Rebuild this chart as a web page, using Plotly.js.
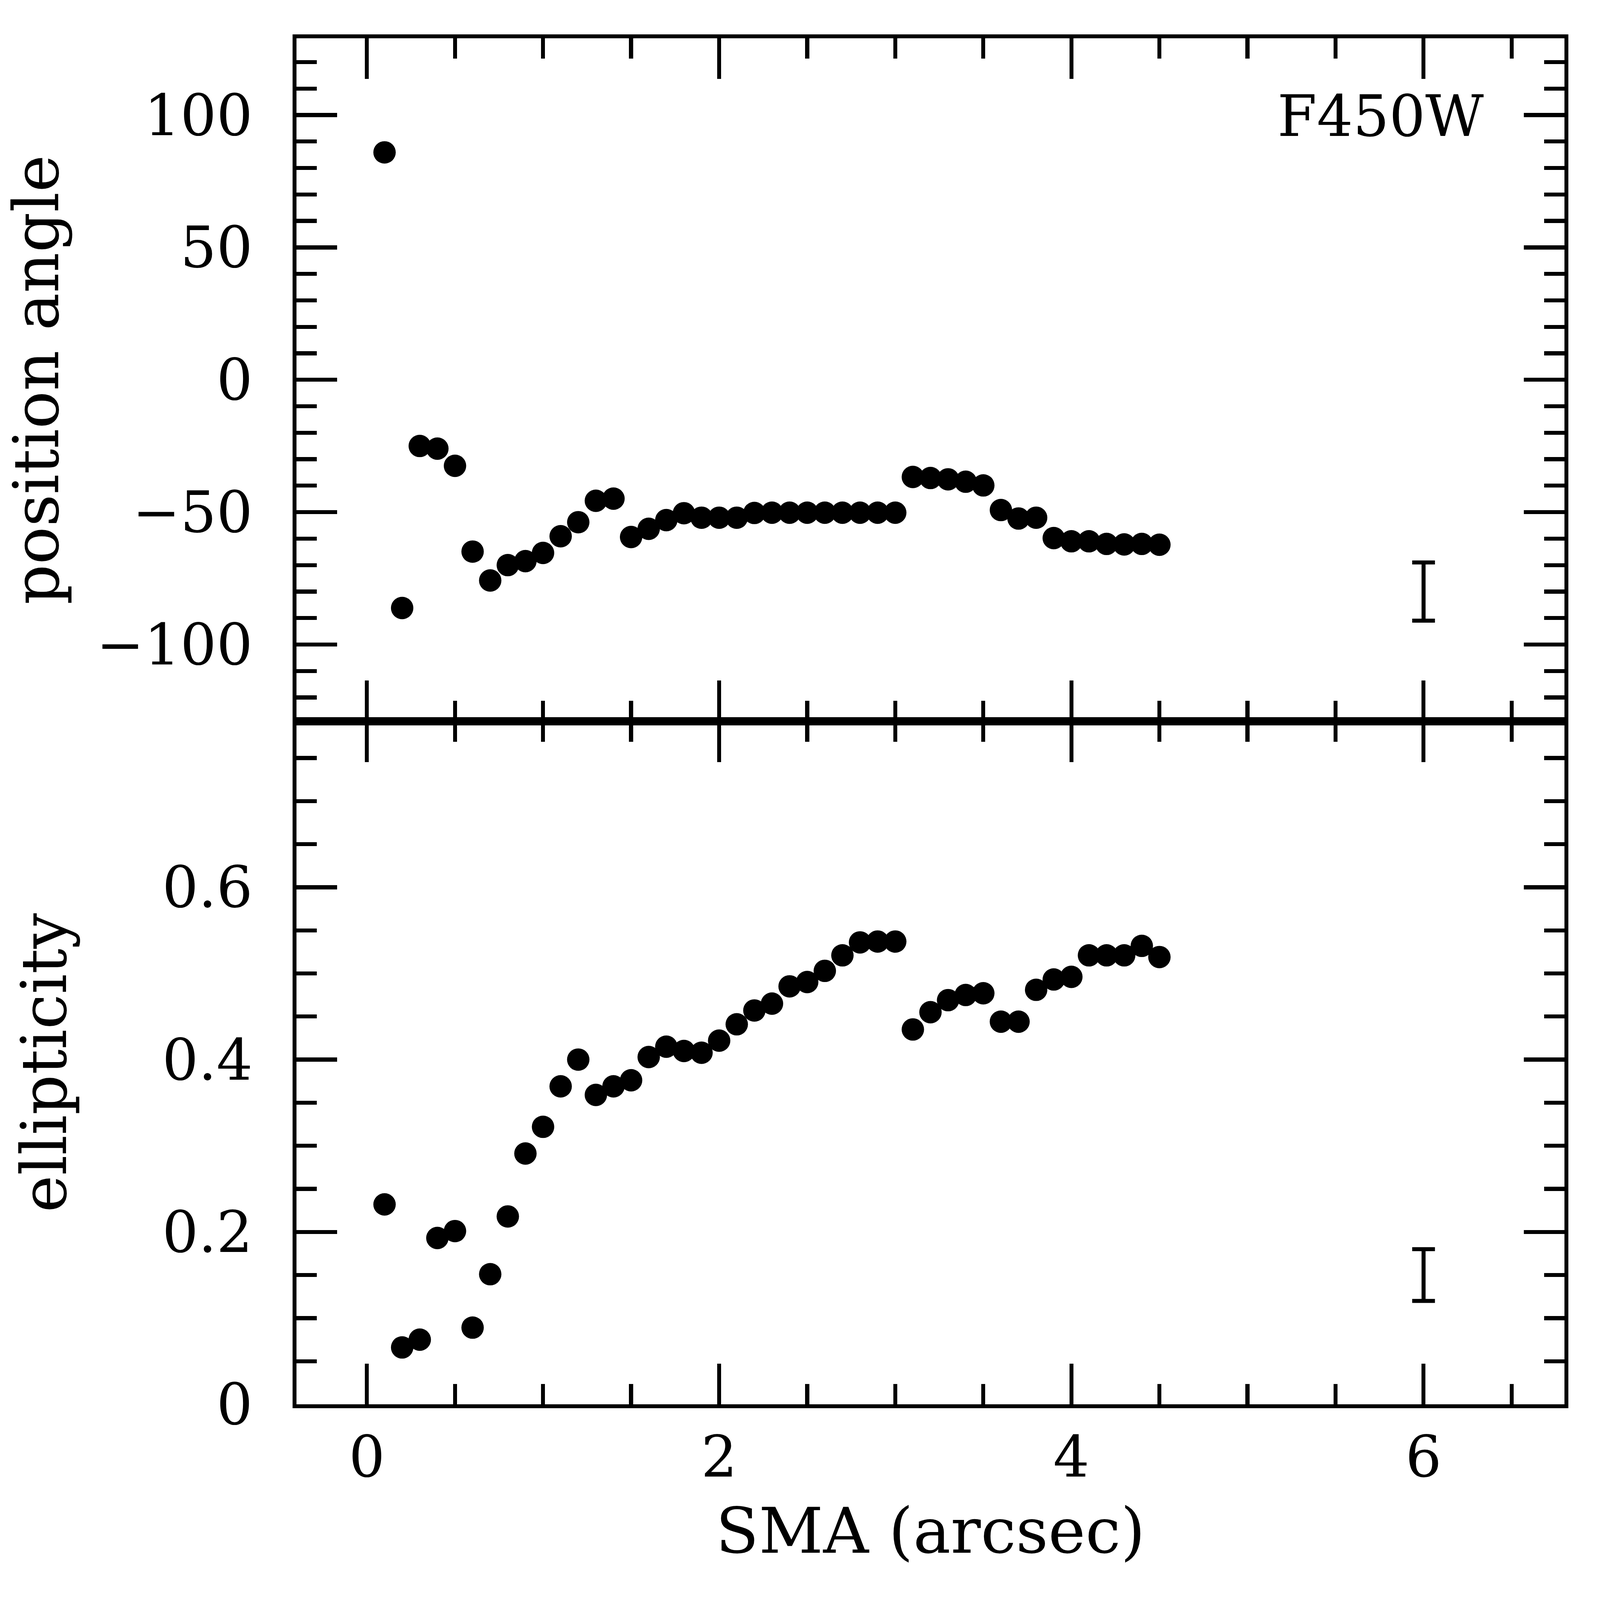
<!DOCTYPE html>
<html>
<head>
<meta charset="utf-8">
<script src="https://cdn.plot.ly/plotly-3.0.1.min.js"></script>
<style>
  html, body { margin: 0; padding: 0; background: #fff; overflow: hidden; }
  #plot { position: absolute; left: 0; top: 0; }
</style>
</head>
<body>
<div id="plot"></div>
<script>
// semi-major axis (arcsec)
var sma = [0.1, 0.2, 0.3, 0.4, 0.5, 0.6, 0.7, 0.8, 0.9, 1.0,
           1.1, 1.2, 1.3, 1.4, 1.5, 1.6, 1.7, 1.8, 1.9, 2.0,
           2.1, 2.2, 2.3, 2.4, 2.5, 2.6, 2.7, 2.8, 2.9, 3.0,
           3.1, 3.2, 3.3, 3.4, 3.5, 3.6, 3.7, 3.8, 3.9, 4.0,
           4.1, 4.2, 4.3, 4.4, 4.5];

// position angle (deg)
var posAngle = [85.9, -86.2, -25.0, -26.0, -32.5, -64.9, -75.8, -70.0, -68.5, -65.4,
                -59.1, -53.8, -45.7, -44.9, -59.4, -56.3, -53.0, -50.4, -52.1, -52.1,
                -52.1, -50.3, -50.2, -50.2, -50.2, -50.2, -50.2, -50.2, -50.2, -50.2,
                -36.7, -37.1, -37.6, -38.5, -39.9, -49.2, -52.4, -52.1, -59.8, -61.0,
                -61.0, -62.0, -62.2, -62.0, -62.3];

// ellipticity
var ellip = [0.232, 0.066, 0.075, 0.193, 0.201, 0.089, 0.151, 0.218, 0.291, 0.322,
             0.369, 0.400, 0.359, 0.369, 0.376, 0.403, 0.415, 0.410, 0.408, 0.422,
             0.441, 0.457, 0.465, 0.485, 0.490, 0.503, 0.521, 0.536, 0.537, 0.537,
             0.435, 0.455, 0.469, 0.475, 0.477, 0.444, 0.444, 0.481, 0.493, 0.496,
             0.521, 0.521, 0.521, 0.532, 0.519];

// typical error bars drawn at SMA = 6
var errX = [6];
var paErrMid = [-80];
var paErr = [11];
var elErrMid = [0.150];
var elErr = [0.030];

// everything below is laid out for a 4783 px square and scaled to the window
var W = Math.min(window.innerWidth, window.innerHeight) || 4783;
var s = W / 4783;
function px(v) { return v * s; }

var FONT = 'DejaVu Serif';
var FS = px(170);      // tick labels
var TFS = px(188);     // axis titles
var LW = px(12);
var MAJ = px(122), MIN = px(61);
var GAP = '\u2002'; // en space to push the y labels away from the frame

var dots = { color: '#000', size: px(67), symbol: 'circle', line: { width: 0 } };
var hidden = { size: 1, color: 'rgba(0,0,0,0)' };

var traces = [
  { x: sma, y: posAngle, type: 'scatter', mode: 'markers', marker: dots,
    xaxis: 'x2', yaxis: 'y2', hoverinfo: 'skip' },
  { x: errX, y: paErrMid, type: 'scatter', mode: 'markers', marker: hidden,
    error_y: { type: 'data', array: paErr, visible: true, color: '#000', thickness: LW, width: px(34) },
    xaxis: 'x2', yaxis: 'y2', hoverinfo: 'skip' },
  { x: sma, y: ellip, type: 'scatter', mode: 'markers', marker: dots,
    xaxis: 'x', yaxis: 'y', hoverinfo: 'skip' },
  { x: errX, y: elErrMid, type: 'scatter', mode: 'markers', marker: hidden,
    error_y: { type: 'data', array: elErr, visible: true, color: '#000', thickness: LW, width: px(34) },
    xaxis: 'x', yaxis: 'y', hoverinfo: 'skip' }
];

function frame(extra, minorStep) {
  var a = {
    showline: true, linecolor: '#000', linewidth: LW, mirror: 'ticks',
    ticks: 'inside', ticklen: MAJ, tickwidth: LW, tickcolor: '#000',
    showgrid: false, zeroline: false, automargin: false,
    tickfont: { family: FONT, size: FS, color: '#000' },
    minor: { dtick: minorStep, ticks: 'inside', ticklen: MIN, tickwidth: LW, tickcolor: '#000', showgrid: false }
  };
  for (var k in extra) a[k] = extra[k];
  return a;
}

var layout = {
  width: W, height: W,
  margin: { l: px(886), r: px(106), t: px(115), b: px(585), pad: 0 },
  paper_bgcolor: '#fff', plot_bgcolor: '#fff',
  showlegend: false,
  font: { family: FONT, size: FS, color: '#000' },
  xaxis: frame({
    anchor: 'y', range: [-0.4, 6.8], tick0: 0, dtick: 2,
    title: { text: 'SMA (arcsec)', standoff: px(62), font: { family: FONT, size: TFS } }
  }, 0.5),
  xaxis2: frame({
    anchor: 'y2', matches: 'x', range: [-0.4, 6.8], tick0: 0, dtick: 2,
    showticklabels: false
  }, 0.5),
  yaxis: frame({
    domain: [0, 0.5], range: [0, 0.7926], tick0: 0, dtick: 0.2,
    ticksuffix: GAP,
    title: { text: 'ellipticity', standoff: px(228), font: { family: FONT, size: TFS } }
  }, 0.05),
  yaxis2: frame({
    domain: [0.5, 1], range: [-129, 129], tick0: 0, dtick: 50,
    ticksuffix: GAP,
    title: { text: 'position angle', standoff: px(64), font: { family: FONT, size: TFS } }
  }, 10),
  annotations: [
    { text: 'F450W', xref: 'paper', yref: 'paper', x: 0.855, y: 0.943,
      xanchor: 'center', yanchor: 'middle', showarrow: false,
      font: { family: FONT, size: FS, color: '#000' } }
  ]
};

Plotly.newPlot('plot', traces, layout, { displayModeBar: false, staticPlot: true });
</script>
</body>
</html>
